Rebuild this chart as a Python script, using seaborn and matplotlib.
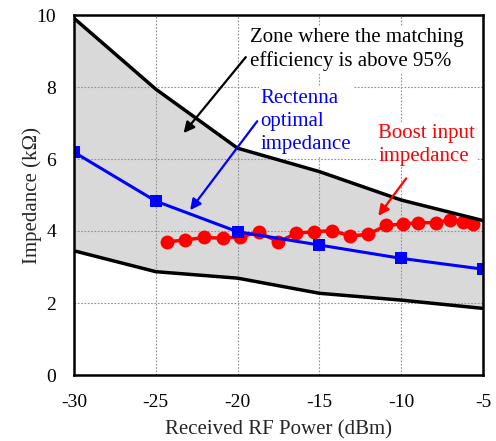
import matplotlib
matplotlib.use("Agg")
import matplotlib.pyplot as plt
import seaborn as sns
import pandas as pd

# Data
power_grid = [-30, -25, -20, -15, -10, -5]
upper_bound = [9.91, 7.94, 6.30, 5.65, 4.86, 4.29]
lower_bound = [3.45, 2.87, 2.69, 2.27, 2.08, 1.85]
rectenna_opt = [6.19, 4.83, 3.98, 3.61, 3.24, 2.94]

boost_power = [-24.3, -23.2, -22.05, -20.9, -19.85, -18.7, -17.5, -16.4, -15.3,
               -14.2, -13.1, -12.0, -10.9, -9.9, -9.0, -7.9, -7.0, -6.2, -5.6]
boost_imp = [3.70, 3.75, 3.82, 3.80, 3.84, 3.96, 3.70, 3.94, 3.98,
             4.01, 3.86, 3.91, 4.16, 4.19, 4.23, 4.23, 4.31, 4.26, 4.19]

x_ticks = [-30, -25, -20, -15, -10, -5]
y_ticks = [0, 2, 4, 6, 8, 10]

sns.set_style("white")
plt.rcParams['font.family'] = ['Liberation Serif', 'DejaVu Serif']

fig = plt.figure(figsize=(4.96, 4.41), dpi=100)
ax = fig.add_axes([74/496, 1-375/441, (483-74)/496, (375-15)/441])

df_rect = pd.DataFrame({"p": power_grid, "z": rectenna_opt})
df_boost = pd.DataFrame({"p": boost_power, "z": boost_imp})

ax.fill_between(power_grid, lower_bound, upper_bound, color="#d9d9d9", zorder=0.2, linewidth=0)
ax.grid(True, linestyle=(0, (1.5, 1.5)), color="#909090", linewidth=0.8, zorder=0.5)
ax.set_axisbelow(True)

sns.lineplot(x=power_grid, y=upper_bound, ax=ax, color="black", linewidth=2.5, zorder=5.5)
sns.lineplot(x=power_grid, y=lower_bound, ax=ax, color="black", linewidth=2.5, zorder=5.5)
sns.lineplot(data=df_boost, x="p", y="z", ax=ax, color="#ff0000", linewidth=2.5,
             marker="o", markersize=10, markeredgewidth=0, zorder=3)
sns.lineplot(data=df_rect, x="p", y="z", ax=ax, color="#0000ff", linewidth=2.2,
             marker="s", markersize=9, markeredgewidth=0, zorder=4)

ax.set_xlim(-30, -5)
ax.set_ylim(0, 10)
ax.set_xticks(x_ticks)
ax.set_yticks(y_ticks)
ax.set_xticklabels([str(v) for v in x_ticks])
ax.set_yticklabels([str(v) for v in y_ticks])
ax.tick_params(direction="in", length=4, width=1.5, labelsize=14, colors="black")
ax.tick_params(axis="x", pad=14)
ax.tick_params(axis="y", pad=13)
for s in ax.spines.values():
    s.set_linewidth(1.8)
    s.set_color("black")
    s.set_zorder(7)

ax.set_xlabel("Received RF Power (dBm)", fontsize=15, labelpad=6)
ax.set_ylabel("Impedance (k\u03a9)", fontsize=15, labelpad=-4)

box = dict(facecolor="white", edgecolor="none", pad=1)
ax.text(-19.27, 9.65, "Zone where the matching\nefficiency is above 95%", fontsize=15,
        color="black", va="top", ha="left", linespacing=1.32, bbox=box, zorder=5)
ax.text(-18.6, 7.95, "Rectenna\noptimal\nimpedance", fontsize=15, color="#0000ff",
        va="top", ha="left", linespacing=1.3, bbox=box, zorder=5)
ax.text(-11.4, 6.97, "Boost input\nimpedance", fontsize=15, color="#ff0000",
        va="top", ha="left", linespacing=1.28, bbox=box, zorder=5)

arrow_kw = dict(arrowstyle="-|>", lw=1.6, mutation_scale=16, shrinkA=0, shrinkB=0)
ax.annotate("", xy=(-23.3, 6.72), xytext=(-19.5, 8.83),
            arrowprops=dict(color="black", **arrow_kw), zorder=6)
ax.annotate("", xy=(-22.9, 4.58), xytext=(-18.8, 7.05),
            arrowprops=dict(color="#0000ff", **arrow_kw), zorder=6)
ax.annotate("", xy=(-11.4, 4.42), xytext=(-9.7, 5.46),
            arrowprops=dict(color="#ff0000", **arrow_kw), zorder=6)

fig.savefig("out.png", dpi=100)
